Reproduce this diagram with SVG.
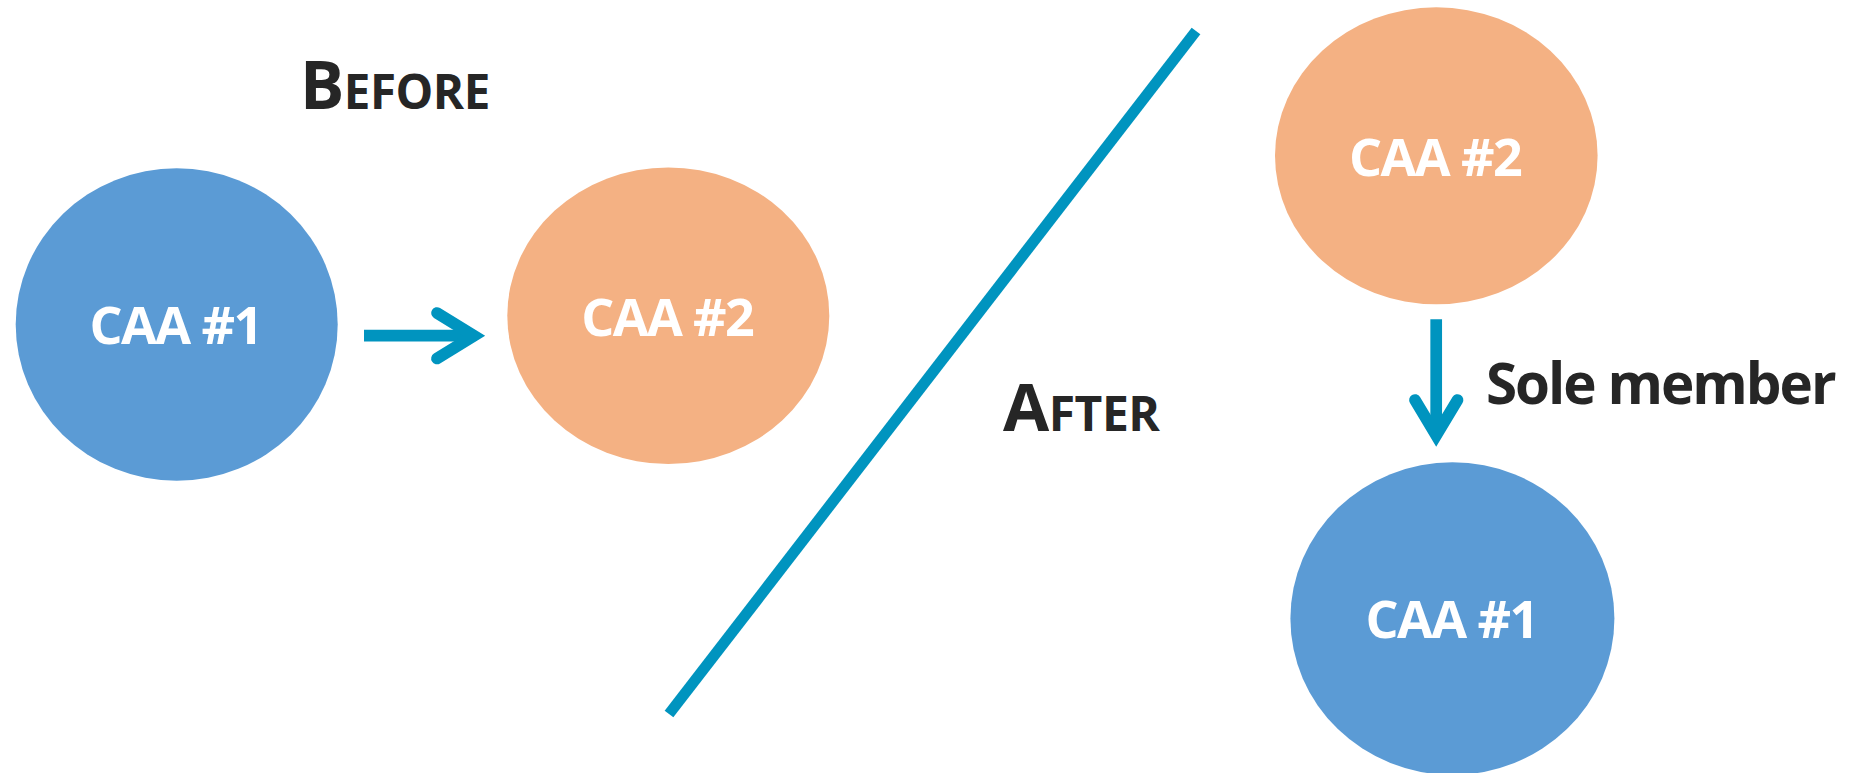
<svg xmlns="http://www.w3.org/2000/svg" width="1853" height="773" viewBox="0 0 1853 773">
  <style>
    .blue { fill: #5B9BD5; }
    .orange { fill: #F4B183; }
    .lbl { font-family: "Open Sans", Lato, "Liberation Sans", sans-serif; font-weight: bold; fill: #FFFFFF; font-size: 52px; letter-spacing: -1.6px; text-anchor: middle; }
    .head { font-family: "Open Sans", Lato, "Liberation Sans", sans-serif; font-weight: bold; fill: #262626; }
    .conn { fill: none; stroke: #0094BF; stroke-width: 11.7; }
  </style>
  <rect x="0" y="0" width="1853" height="773" fill="#FFFFFF"/>

  <g id="divider">
    <line x1="669" y1="714" x2="1196" y2="31" stroke="#0094BF" stroke-width="11" stroke-linecap="butt"/>
  </g>

  <g id="title-before">
    <text class="head" x="300" y="109" letter-spacing="-0.5"><tspan font-size="66">B</tspan><tspan font-size="47.5">EFORE</tspan></text>
  </g>
  <g id="title-after">
    <text class="head" x="1003" y="431" letter-spacing="-0.5"><tspan font-size="67">A</tspan><tspan font-size="48">FTER</tspan></text>
  </g>

  <g id="before-caa1">
    <ellipse class="blue" cx="176.7" cy="324.5" rx="161" ry="156.2"/>
    <text class="lbl" x="175.6" y="344.3">CAA #1</text>
  </g>
  <g id="before-caa2">
    <ellipse class="orange" cx="668.3" cy="315.7" rx="161" ry="148.3"/>
    <text class="lbl" x="667.2" y="336">CAA #2</text>
  </g>
  <g id="after-caa2">
    <ellipse class="orange" cx="1436.3" cy="155.8" rx="161.3" ry="148.5"/>
    <text class="lbl" x="1435.1" y="176">CAA #2</text>
  </g>
  <g id="after-caa1">
    <ellipse class="blue" cx="1452.4" cy="618.6" rx="162" ry="156.3"/>
    <text class="lbl" x="1451.6" y="638.4">CAA #1</text>
  </g>

  <g id="connectors">
    <line class="conn" x1="364" y1="335.7" x2="472" y2="335.7" stroke-linecap="butt"/>
    <polyline class="conn" points="437,313 474,335.7 437,358.5" stroke-linecap="round" stroke-linejoin="miter" stroke-miterlimit="10"/>
    <line class="conn" x1="1436.2" y1="319.3" x2="1436.2" y2="434" stroke-linecap="butt"/>
    <polyline class="conn" points="1415,400 1436.2,435.3 1457.5,400" stroke-linecap="round" stroke-linejoin="miter" stroke-miterlimit="10"/>
    <text class="head" x="1486" y="404.3" font-size="56.5" letter-spacing="-2">Sole member</text>
  </g>
</svg>
